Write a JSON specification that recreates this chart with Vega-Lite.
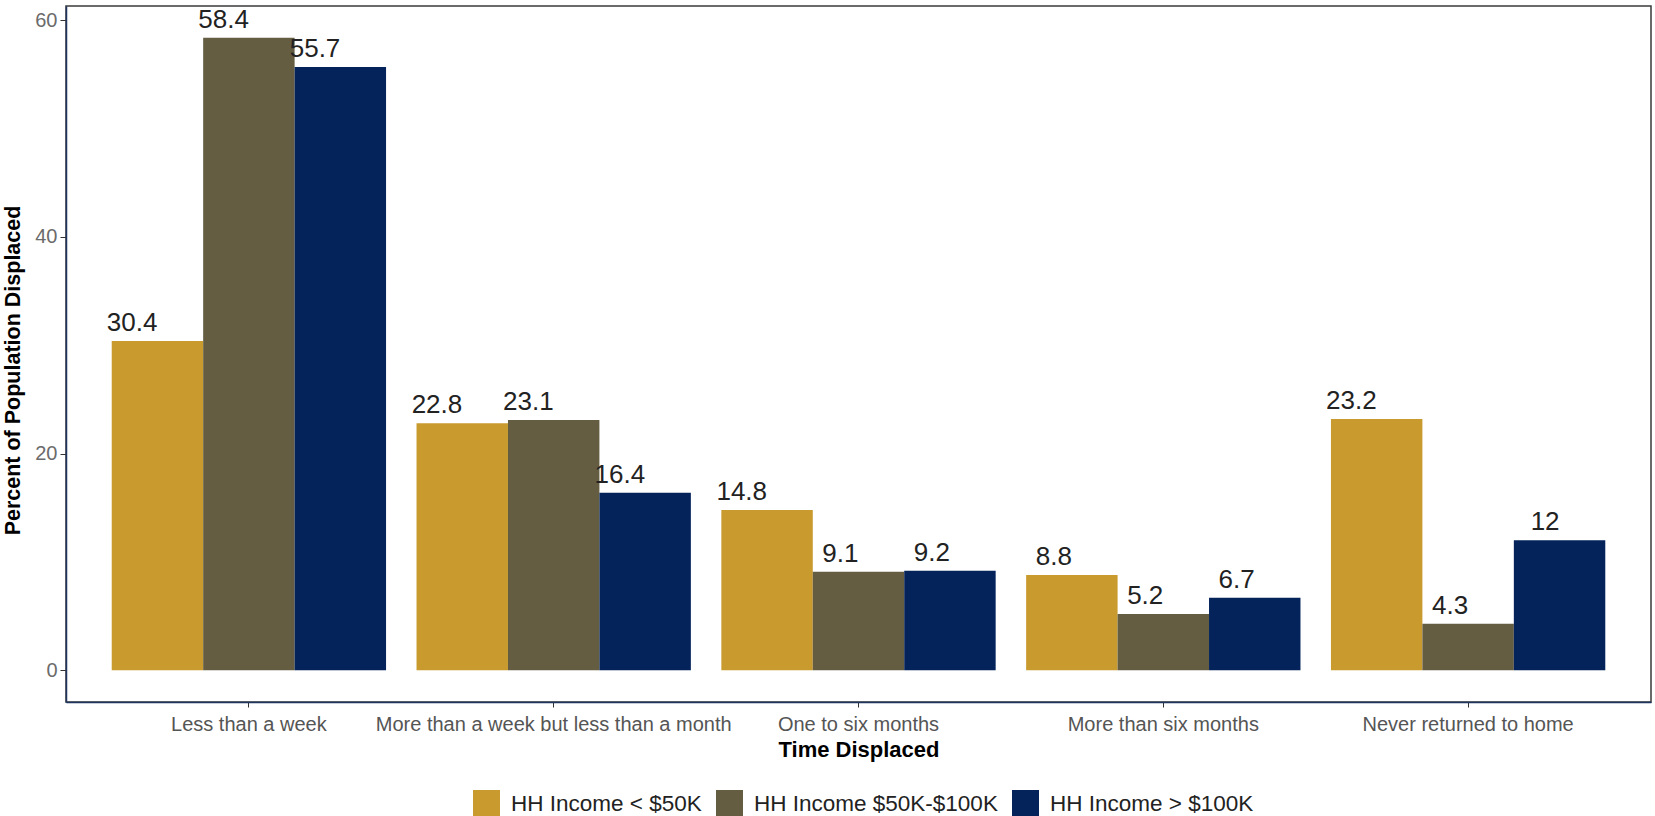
{
  "$schema": "https://vega.github.io/schema/vega-lite/v6.json",
  "width": 1585,
  "height": 696,
  "autosize": {"type": "none"},
  "padding": {"left": 66, "top": 6, "right": 4, "bottom": 114},
  "background": "white",
  "config": {
    "font": "Liberation Sans",
    "view": {"stroke": "#3a3a3a", "strokeWidth": 1.5}
  },
  "data": {
    "values": [
      {"cat": "Less than a week", "group": "HH Income < $50K", "pct": 30.4},
      {"cat": "Less than a week", "group": "HH Income $50K-$100K", "pct": 58.4},
      {"cat": "Less than a week", "group": "HH Income > $100K", "pct": 55.7},
      {"cat": "More than a week but less than a month", "group": "HH Income < $50K", "pct": 22.8},
      {"cat": "More than a week but less than a month", "group": "HH Income $50K-$100K", "pct": 23.1},
      {"cat": "More than a week but less than a month", "group": "HH Income > $100K", "pct": 16.4},
      {"cat": "One to six months", "group": "HH Income < $50K", "pct": 14.8},
      {"cat": "One to six months", "group": "HH Income $50K-$100K", "pct": 9.1},
      {"cat": "One to six months", "group": "HH Income > $100K", "pct": 9.2},
      {"cat": "More than six months", "group": "HH Income < $50K", "pct": 8.8},
      {"cat": "More than six months", "group": "HH Income $50K-$100K", "pct": 5.2},
      {"cat": "More than six months", "group": "HH Income > $100K", "pct": 6.7},
      {"cat": "Never returned to home", "group": "HH Income < $50K", "pct": 23.2},
      {"cat": "Never returned to home", "group": "HH Income $50K-$100K", "pct": 4.3},
      {"cat": "Never returned to home", "group": "HH Income > $100K", "pct": 12}
    ]
  },
  "encoding": {
    "x": {
      "field": "cat",
      "type": "nominal",
      "sort": ["Less than a week", "More than a week but less than a month", "One to six months", "More than six months", "Never returned to home"],
      "scale": {"paddingInner": 0.1, "paddingOuter": 0.15},
      "axis": {
        "title": "Time Displaced",
        "titleFontSize": 22,
        "titleFontWeight": "bold",
        "titleColor": "#000000",
        "titlePadding": 5,
        "labelAngle": 0,
        "labelFontSize": 20,
        "labelColor": "#555555",
        "labelPadding": 7,
        "labelLimit": 600,
        "domainColor": "#1f3560",
        "domainWidth": 1.5,
        "tickColor": "#333333",
        "tickSize": 5
      }
    },
    "xOffset": {
      "field": "group",
      "type": "nominal",
      "sort": ["HH Income < $50K", "HH Income $50K-$100K", "HH Income > $100K"]
    },
    "y": {
      "field": "pct",
      "type": "quantitative",
      "scale": {"domain": [-2.92, 61.32], "nice": false, "zero": false},
      "axis": {
        "title": "Percent of Population Displaced",
        "titleFontSize": 21.5,
        "titleFontWeight": "bold",
        "titleColor": "#000000",
        "titlePadding": 10,
        "titleY": 364,
        "values": [0, 20, 40, 60],
        "grid": false,
        "labelFontSize": 20,
        "labelColor": "#6b6b6b",
        "labelPadding": 3,
        "domainColor": "#1f3560",
        "domainWidth": 1.5,
        "tickColor": "#333333",
        "tickSize": 6
      }
    }
  },
  "layer": [
    {
      "mark": {"type": "bar"},
      "encoding": {
        "color": {
          "field": "group",
          "type": "nominal",
          "sort": ["HH Income < $50K", "HH Income $50K-$100K", "HH Income > $100K"],
          "scale": {
            "domain": ["HH Income < $50K", "HH Income $50K-$100K", "HH Income > $100K"],
            "range": ["#C99A2E", "#645D42", "#03235A"]
          },
          "legend": {
            "title": null,
            "orient": "none",
            "direction": "horizontal",
            "legendX": 407,
            "legendY": 784,
            "padding": 0,
            "symbolType": "square",
            "symbolSize": 729,
            "symbolStrokeWidth": 0,
            "symbolOpacity": 1,
            "labelFont": "Liberation Sans",
            "labelFontSize": 22.5,
            "labelColor": "#222222",
            "labelOffset": 11,
            "labelLimit": 400,
            "columnPadding": 14
          }
        }
      }
    },
    {
      "mark": {"type": "text", "align": "right", "baseline": "alphabetic", "dy": -10, "fontSize": 26, "color": "#222222"},
      "encoding": {
        "text": {"field": "pct", "type": "quantitative"}
      }
    },
    {
      "data": {"values": [{}]},
      "mark": {"type": "rule", "color": "#3a3a3a", "strokeWidth": 1.5},
      "encoding": {
        "x": null,
        "xOffset": null,
        "y": {"datum": 0}
      }
    }
  ]
}
